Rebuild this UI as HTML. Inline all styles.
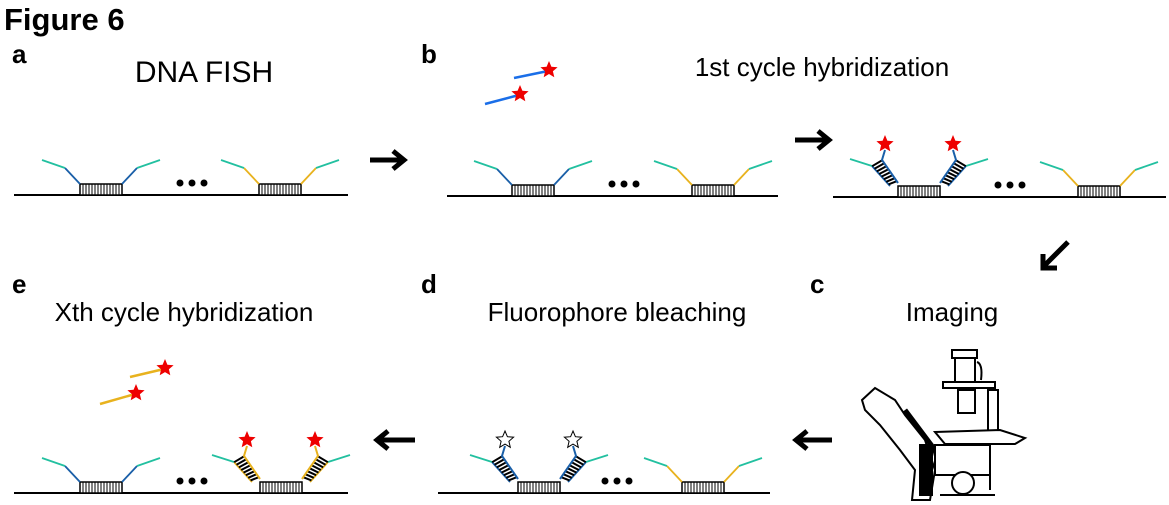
<!DOCTYPE html>
<html><head><meta charset="utf-8"><style>
body{margin:0;background:#fff;width:1169px;height:505px;overflow:hidden}
svg{display:block;font-family:"Liberation Sans",sans-serif}
</style></head><body>
<svg id="fig" width="1169" height="505" viewBox="0 0 1169 505">
<text x="4" y="30" font-size="31" font-weight="bold">Figure 6</text>
<text x="12" y="63" font-size="26" font-weight="bold">a</text>
<text x="421" y="63" font-size="26" font-weight="bold">b</text>
<text x="810" y="293" font-size="26" font-weight="bold">c</text>
<text x="421" y="293" font-size="26" font-weight="bold">d</text>
<text x="12" y="293" font-size="26" font-weight="bold">e</text>
<text x="204" y="82" font-size="30" text-anchor="middle">DNA FISH</text>
<text x="822" y="76" font-size="26" text-anchor="middle">1st cycle hybridization</text>
<text x="952" y="321" font-size="26" text-anchor="middle">Imaging</text>
<text x="617" y="321" font-size="26" text-anchor="middle">Fluorophore bleaching</text>
<text x="184" y="321" font-size="26" text-anchor="middle">Xth cycle hybridization</text>
<g id="arrows" stroke="#000" stroke-width="5" fill="none">
<path d="M370 160 H402 M393 151 L404 160 L393 169"/>
<path d="M795 140 H827 M818 131 L829 140 L818 149"/>
<path d="M1068 242 L1043 267 M1043 254 L1043 268 L1057 268"/>
<path d="M832 440 H798 M807 431 L796 440 L807 449"/>
<path d="M415 440 H379 M388 431 L377 440 L388 449"/>
</g>
<g id="scope" stroke="#000" stroke-width="2" fill="#fff">
<rect x="952" y="350" width="25" height="8"/>
<rect x="955" y="358" width="20" height="25"/>
<path d="M977 362 q6 2 4 18" fill="none"/>
<rect x="943" y="382" width="52" height="6"/>
<rect x="958" y="390" width="17" height="23"/>
<rect x="988" y="390" width="10" height="42"/>
<path d="M935 432 L1000 430 L1025 438 L1015 444 L945 444 Z"/>
<path d="M862 400 L875 388 L895 400 L905 415 L925 440 L935 470 L930 500 L912 500 L915 470 L900 450 L880 425 L865 410 Z"/>
<path d="M905 410 L935 450 L940 470" stroke-width="5" fill="none"/>
<rect x="935" y="445" width="55" height="30"/>
<circle cx="963" cy="483" r="11"/>
<path d="M940 495 H995 M990 470 V490" fill="none"/>
<rect x="920" y="445" width="12" height="50" fill="#000"/>
</g>
</svg>
<script>
const NS='http://www.w3.org/2000/svg';
const svg=document.getElementById('fig');
const BLUE='#1a5fa8',YEL='#e8b21e',TEAL='#22c0a0',RED='#ee0000';
function el(tag,attrs,parent){const e=document.createElementNS(NS,tag);for(const k in attrs)e.setAttribute(k,attrs[k]);(parent||svg).appendChild(e);return e;}
function star(cx,cy,r,fill,g){let p=[];for(let i=0;i<10;i++){const a=-Math.PI/2+i*Math.PI/5,rr=i%2?r*0.45:r;p.push((cx+rr*Math.cos(a)).toFixed(1)+','+(cy+rr*Math.sin(a)).toFixed(1));}
const s=el('polygon',{points:p.join(' '),fill:fill,stroke:fill==='#fff'?'#000':'none','stroke-width':1},g);

}
function site(bx,by,col,mode,g){
 el('rect',{x:bx,y:by-11,width:42,height:11,fill:'#fff',stroke:'#000','stroke-width':1.5},g);
 for(let x=bx+3;x<bx+42;x+=3)el('line',{x1:x,y1:by-11,x2:x,y2:by,stroke:'#000','stroke-width':1},g);
 [[bx,-1],[bx+42,1]].forEach(([x0,d])=>{
  const top=by-11,mx=x0+d*15,my=top-16;
  if(!mode){
   el('polyline',{points:`${x0},${top} ${mx},${my}`,fill:'none',stroke:col,'stroke-width':1.8},g);
   el('polyline',{points:`${mx},${my} ${mx+d*23},${my-8}`,fill:'none',stroke:TEAL,'stroke-width':1.8},g);
  } else {
   const ax0=x0+d*8, ax1=x0+d*26, ay1=top-20;
   const bx0=x0, bx1=x0+d*16, by1=top-26;
   el('polyline',{points:`${ax0},${top} ${ax1},${ay1}`,fill:'none',stroke:col,'stroke-width':1.8},g);
   el('polyline',{points:`${ax1},${ay1} ${ax1+d*22},${ay1-7}`,fill:'none',stroke:TEAL,'stroke-width':1.8},g);
   for(let t=0.08;t<1;t+=0.13){
    el('line',{x1:ax0+(ax1-ax0)*t,y1:top+(ay1-top)*t,x2:bx0+(bx1-bx0)*t,y2:top-3+(by1-top+3)*t,stroke:'#000','stroke-width':2},g);}
   el('polyline',{points:`${bx0},${top-3} ${bx1},${by1} ${bx1-d*3},${by1-10}`,fill:'none',stroke:col,'stroke-width':2},g);
   star(bx1-d*3,by1-16,9,mode==='hollow'?'#fff':RED,g);
  }
 });
}
function strand(x0,x1,y,s1,c1,s2,c2,mode1,mode2,dotx,name){
 const g=el('g',{});
 
 
 el('line',{x1:x0,y1:y,x2:x1,y2:y,stroke:'#000','stroke-width':2},g);
 site(s1,y,c1,mode1,g);site(s2,y,c2,mode2,g);
 for(let i=0;i<3;i++)el('circle',{cx:dotx+i*12,cy:y-12,r:3.5,fill:'#000'},g);
}
function probe(x1,y1,x2,y2,col,name){
 const g=el('g',{});
 
 
 el('line',{x1:x1,y1:y1,x2:x2,y2:y2,stroke:col,'stroke-width':2.5},g);
 star(x2+1,y2-1,9,RED,g);
}
strand(14,348,195,80,BLUE,259,YEL,null,null,180,'strand-panel-a');
strand(447,778,196,512,BLUE,692,YEL,null,null,612,'strand-panel-b');
probe(485,104,519,95,'#1a6ee8','free-probe-b-1');
probe(514,78,548,71,'#1a6ee8','free-probe-b-2');
strand(833,1166,197,898,BLUE,1078,YEL,'red',null,998,'strand-panel-b-hybridized');
strand(438,770,493,518,BLUE,682,YEL,'hollow',null,605,'strand-panel-d');
strand(14,348,493,80,BLUE,260,YEL,null,'red',180,'strand-panel-e');
probe(100,404,135,394,YEL,'free-probe-e-1');
probe(130,377,164,369,YEL,'free-probe-e-2');
</script>
</body></html>
